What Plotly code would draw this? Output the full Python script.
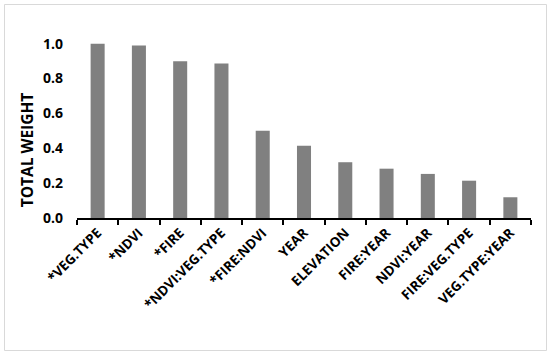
import plotly.graph_objects as go

categories = ["*VEG.TYPE", "*NDVI", "*FIRE", "*NDVI:VEG.TYPE", "*FIRE:NDVI", "YEAR",
              "ELEVATION", "FIRE:YEAR", "NDVI:YEAR", "FIRE:VEG.TYPE", "VEG.TYPE:YEAR"]
weights = [1.0, 0.99, 0.90, 0.887, 0.50, 0.415, 0.32, 0.283, 0.253, 0.214, 0.119]
y_ticks = [0.0, 0.2, 0.4, 0.6, 0.8, 1.0]

FONT = "Open Sans"

fig = go.Figure(go.Bar(x=categories, y=weights, marker=dict(color="#808080", line=dict(width=0))))

fig.update_layout(
    width=550, height=355,
    margin=dict(l=77, r=19, t=35, b=137),
    plot_bgcolor="white", paper_bgcolor="white",
    bargap=0.66,
    showlegend=False,
    font=dict(family=FONT, color="black"),
    xaxis=dict(
        automargin=False,
        tickangle=-45, ticks="outside", tickson="boundaries", ticklen=5, tickwidth=1.5,
        tickcolor="black", showline=True, linecolor="black", linewidth=1.5,
        tickfont=dict(family=FONT, size=13.5, color="black", weight="bold"),
        showgrid=False,
    ),
    yaxis=dict(
        automargin=False,
        range=[0, 1.05], tickvals=y_ticks, ticktext=[f"{v:.1f}" for v in y_ticks],
        showgrid=False, showline=False, zeroline=False, ticks="",
        ticklabelstandoff=13,
        tickfont=dict(family=FONT, size=14, color="black", weight="bold"),
    ),
    annotations=[dict(
        text="TOTAL WEIGHT", textangle=-90, xref="paper", yref="paper",
        x=-0.11, y=0.37, xanchor="center", yanchor="middle", showarrow=False,
        font=dict(family=FONT, size=15.5, color="black", weight="bold"),
    )],
    shapes=[dict(
        type="rect", xref="paper", yref="paper",
        x0=(4.5 - 77) / 454, x1=(546.5 - 77) / 454,
        y0=(218 - 350.5) / 183, y1=(218 - 4.5) / 183,
        line=dict(color="#d9d9d9", width=1), layer="above",
    )],
)

fig.write_html("out.html", config={"displayModeBar": False},
               post_script="document.body.style.margin='0';")
